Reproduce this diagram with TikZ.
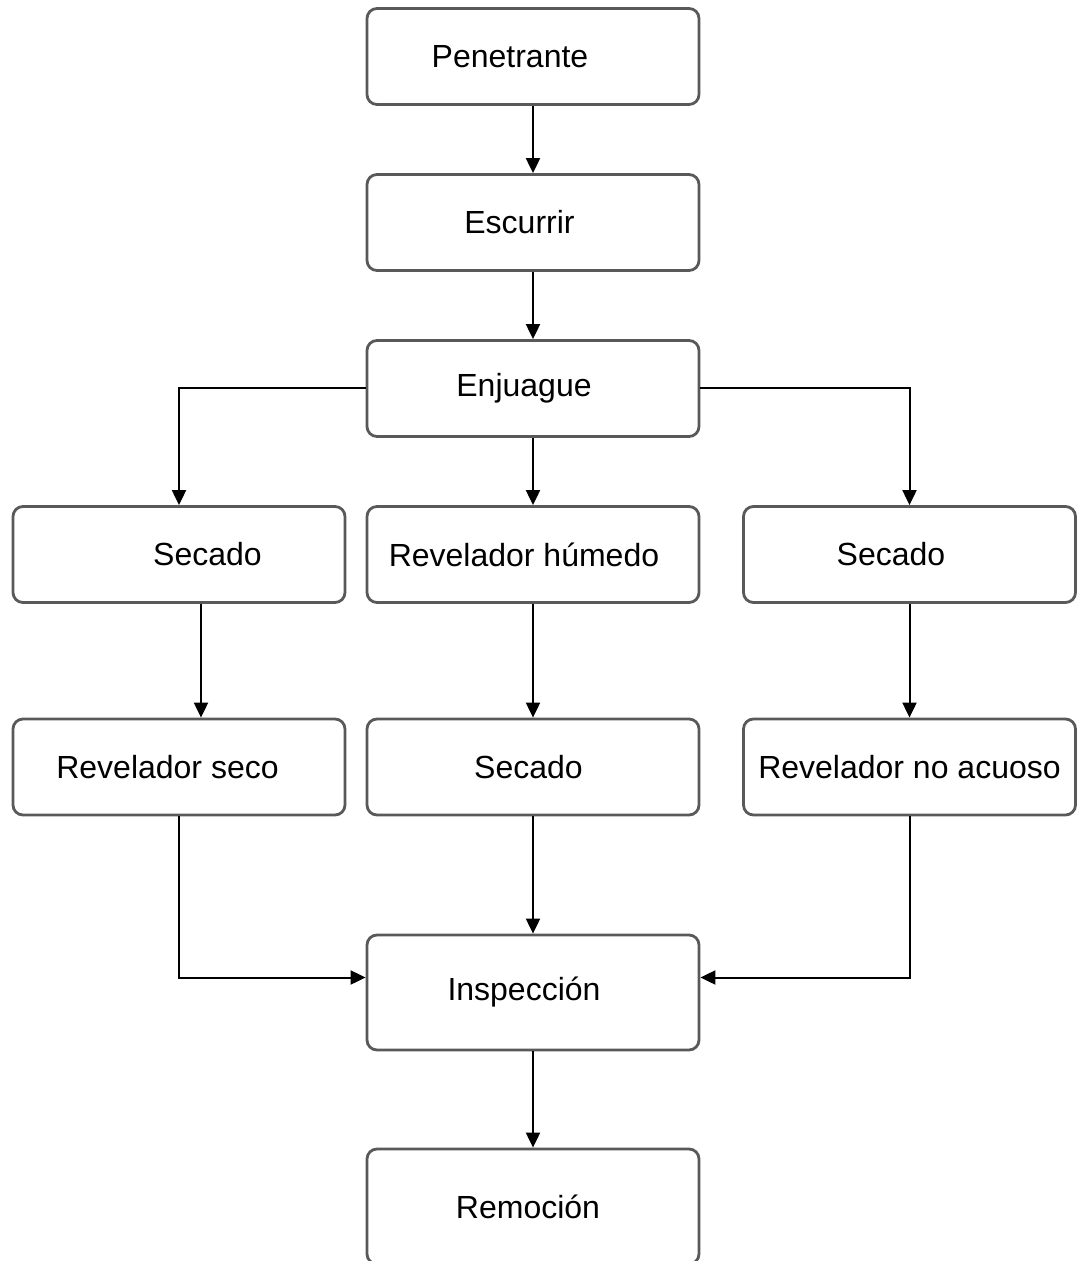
\documentclass[tikz,border=0pt]{standalone}
\usepackage{fontspec}
\setmainfont{Liberation Sans}
\usetikzlibrary{positioning,arrows.meta}

\tikzset{
  paso/.style={draw=black!65, line width=1.4pt, rounded corners=5pt, minimum width=166pt, minimum height=48pt, inner sep=0pt, font=\fontsize{16}{19}\selectfont},
}

\begin{document}
\begin{tikzpicture}[>={Triangle[width=7pt,length=7.5pt]}, line width=1pt, node distance=83pt, on grid]
\useasboundingbox (-266.5pt,-602.25pt) rectangle (271.5pt,28.25pt);
\node[paso] 			(pen)									{Penetrante\hspace*{23pt}};
\node[paso]				(esc)	[below=of pen]					{Escurrir\hspace*{13.5pt}};
\node[paso]				(enj)	[below=of esc]					{Enjuague\hspace*{9pt}};
\node[paso]				(hum)	[below=of enj]					{Revelador húmedo\hspace*{9pt}};
\node[paso]				(sec1)	[left=177pt of hum]				{\hspace*{28.5pt}Secado};
\node[paso]				(sec3)	[right=188.25pt of hum]			{Secado\hspace*{18.5pt}};
\node[paso]				(sec2)	[below=106.25pt of hum]			{Secado\hspace*{4.5pt}};
\node[paso]				(rseco)	[below=106.25pt of sec1]		{Revelador seco\hspace*{11.5pt}};
\node[paso]				(rnoac)	[below=106.25pt of sec3]		{Revelador no acuoso};
\node[paso, minimum height=57.5pt]	(insp)	[below=112.75pt of sec2]	{Inspección\hspace*{9pt}};
\node[paso, minimum height=57.5pt]	(rem)	[below=107pt of insp]		{Remoción\hspace*{5pt}};
\draw[->]	(pen) -- (esc);
\draw[->]	(esc) -- (enj);
\draw[->]	(enj) -- (hum);
\draw[->]	(enj.west) -| (sec1);
\draw[->]	(enj.east) -| (sec3);
\draw[->]	([xshift=11pt]sec1.south) -- ([xshift=11pt]rseco.north);
\draw[->]	(hum) -- (sec2);
\draw[->]	(sec3) -- (rnoac);
\draw[->]	(sec2) -- (insp);
\draw[->]	(rseco.south) |- ([yshift=7.5pt]insp.west);
\draw[->]	(rnoac.south) |- ([yshift=7.5pt]insp.east);
\draw[->]	(insp) -- (rem);
\end{tikzpicture}
\end{document}
